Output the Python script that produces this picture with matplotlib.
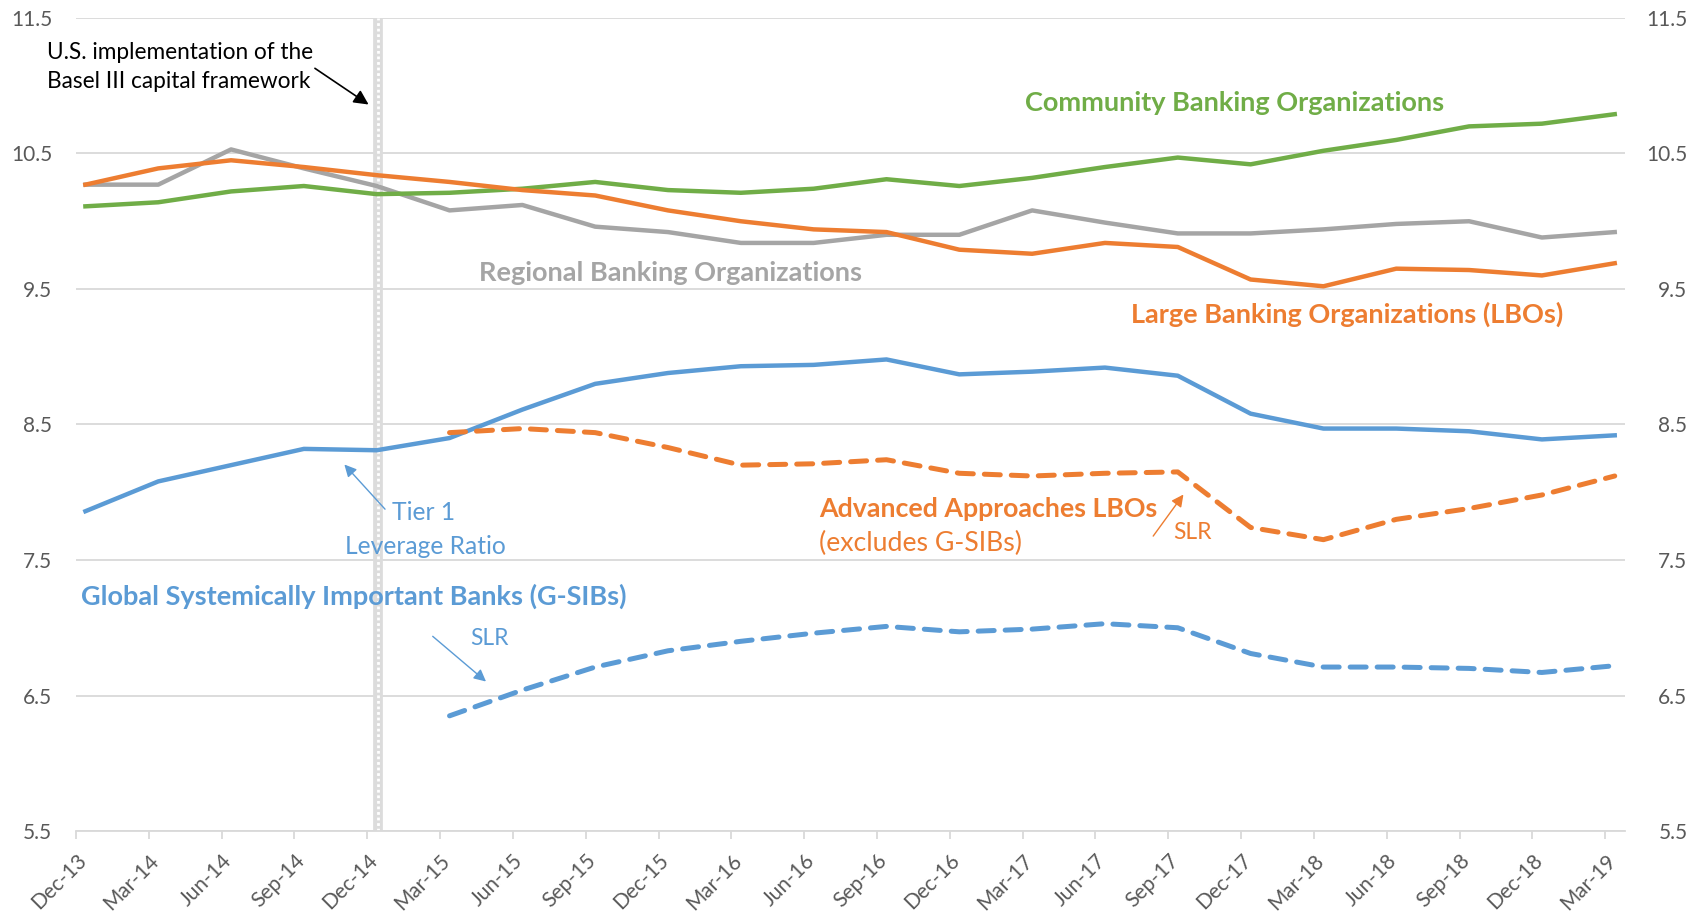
import numpy as np
import matplotlib.pyplot as plt

plt.rcParams['font.family'] = ['Lato', 'DejaVu Sans']

quarters = ['Dec-13', 'Mar-14', 'Jun-14', 'Sep-14', 'Dec-14', 'Mar-15', 'Jun-15', 'Sep-15',
            'Dec-15', 'Mar-16', 'Jun-16', 'Sep-16', 'Dec-16', 'Mar-17', 'Jun-17', 'Sep-17',
            'Dec-17', 'Mar-18', 'Jun-18', 'Sep-18', 'Dec-18', 'Mar-19']

community = [10.11, 10.14, 10.22, 10.26, 10.20, 10.21, 10.24, 10.29, 10.23, 10.21, 10.24,
             10.31, 10.26, 10.32, 10.40, 10.47, 10.42, 10.52, 10.60, 10.70, 10.72, 10.79]
large = [10.27, 10.39, 10.45, 10.40, 10.34, 10.29, 10.23, 10.19, 10.08, 10.00, 9.94,
         9.92, 9.79, 9.76, 9.84, 9.81, 9.57, 9.52, 9.65, 9.64, 9.60, 9.69]
regional = [10.27, 10.27, 10.53, 10.39, 10.26, 10.08, 10.12, 9.96, 9.92, 9.84, 9.84,
            9.90, 9.90, 10.08, 9.99, 9.91, 9.91, 9.94, 9.98, 10.00, 9.88, 9.92]
gsib_tier1 = [7.86, 8.08, 8.20, 8.32, 8.31, 8.40, 8.61, 8.80, 8.88, 8.93, 8.94,
              8.98, 8.87, 8.89, 8.92, 8.86, 8.58, 8.47, 8.47, 8.45, 8.39, 8.42]
# SLR series start in Mar-15
adv_slr = [8.44, 8.47, 8.44, 8.33, 8.20, 8.21, 8.24, 8.14, 8.12, 8.14, 8.15,
           7.74, 7.65, 7.80, 7.88, 7.98, 8.12]
gsib_slr = [6.35, 6.54, 6.71, 6.83, 6.90, 6.96, 7.01, 6.97, 6.99, 7.03, 7.00,
            6.81, 6.71, 6.71, 6.70, 6.67, 6.72]
y_ticks = [5.5, 6.5, 7.5, 8.5, 9.5, 10.5, 11.5]

green = '#70AD47'
orange = '#ED7D31'
gray = '#A5A5A5'
blue = '#5B9BD5'
txt_gray = '#595959'

fig = plt.figure(figsize=(16.99, 9.13), dpi=100)
ax = fig.add_axes([0.0447, 0.0898, 0.9117, 0.8905])

offset = 0.13  # data sit a bit right of the tick marks (date axis)
x = np.arange(len(quarters)) + offset
x_slr = x[5:]

ax.axvline(4 + offset + 0.02, color='#DCDCDC', lw=7, zorder=1)
ax.axvline(4 + offset + 0.02, color='white', lw=2, ls=(0, (1, 1)), zorder=1)

ax.plot(x, community, color=green, lw=3.2, zorder=3)
ax.plot(x, large, color=orange, lw=3.2, zorder=3)
ax.plot(x, regional, color=gray, lw=3.2, zorder=2)
ax.plot(x, gsib_tier1, color=blue, lw=3.2, zorder=3)
ax.plot(x_slr, adv_slr, color=orange, lw=3.6, ls=(0, (3.2, 2.2)),
        dash_capstyle='round', zorder=3)
ax.plot(x_slr, gsib_slr, color=blue, lw=3.6, ls=(0, (3.2, 2.2)),
        dash_capstyle='round', zorder=3)

ax.set_xlim(0, 21.27)
ax.set_ylim(5.5, 11.5)
ax.set_yticks(y_ticks)
ax.set_yticklabels(['%.1f' % v for v in y_ticks])
ax.grid(axis='y', color='#D9D9D9', lw=1.3)
ax.set_axisbelow(True)
for s in ['top', 'right', 'left']:
    ax.spines[s].set_visible(False)
ax.spines['bottom'].set_color('#D9D9D9')
ax.spines['bottom'].set_linewidth(1.3)

ax.set_xticks(np.arange(len(quarters)))
ax.set_xticklabels(quarters, rotation=45, ha='right', rotation_mode='anchor')
ax.tick_params(axis='x', colors='#D9D9D9', length=6, width=1.3, labelcolor=txt_gray,
               labelsize=15, pad=8)
ax.tick_params(axis='y', length=0, labelcolor=txt_gray, labelsize=15, pad=17)

ax2 = ax.twinx()
ax2.set_ylim(5.5, 11.5)
ax2.set_yticks(y_ticks)
ax2.set_yticklabels(['%.1f' % v for v in y_ticks], ha='right')
ax2.tick_params(axis='y', length=0, labelcolor=txt_gray, labelsize=15, pad=45)
for s in ax2.spines.values():
    s.set_visible(False)

# annotations
ax.text(-0.40, 11.14, 'U.S. implementation of the\nBasel III capital framework',
        fontsize=16.3, color='black', va='center', linespacing=1.45)
ax.annotate('', xy=(4.05, 10.85), xytext=(3.25, 11.14),
            arrowprops=dict(arrowstyle='-|>', color='black', lw=1.2, mutation_scale=22))

ax.text(15.91, 10.87, 'Community Banking Organizations', color=green, fontsize=19.5,
        fontweight='bold', ha='center', va='center')
ax.text(8.17, 9.62, 'Regional Banking Organizations', color=gray, fontsize=19.5,
        fontweight='bold', ha='center', va='center')
ax.text(17.46, 9.31, 'Large Banking Organizations (LBOs)', color=orange, fontsize=19.5,
        fontweight='bold', ha='center', va='center')
ax.text(10.21, 7.88, 'Advanced Approaches LBOs', color=orange, fontsize=19.3,
        fontweight='bold', ha='left', va='center')
ax.text(10.21, 7.62, '(excludes G-SIBs)', color=orange, fontsize=19.2,
        ha='left', va='center')
ax.text(15.33, 7.70, 'SLR', color=orange, fontsize=16.4, ha='center', va='center')
ax.annotate('', xy=(15.23, 8.0), xytext=(14.77, 7.66),
            arrowprops=dict(arrowstyle='-|>', color=orange, lw=1.0, mutation_scale=18))

ax.text(4.77, 7.85, 'Tier 1', color=blue, fontsize=17.7, ha='center', va='center')
ax.text(4.80, 7.60, 'Leverage Ratio', color=blue, fontsize=17.7, ha='center', va='center')
ax.annotate('', xy=(3.66, 8.22), xytext=(4.27, 7.86),
            arrowprops=dict(arrowstyle='-|>', color=blue, lw=1.0, mutation_scale=18))

ax.text(0.07, 7.23, 'Global Systemically Important Banks (G-SIBs)', color=blue,
        fontsize=19.5, fontweight='bold', ha='left', va='center')
ax.text(5.68, 6.92, 'SLR', color=blue, fontsize=16.4, ha='center', va='center')
ax.annotate('', xy=(5.66, 6.59), xytext=(4.87, 6.95),
            arrowprops=dict(arrowstyle='-|>', color=blue, lw=1.0, mutation_scale=18))

fig.savefig('out.png', dpi=100)
